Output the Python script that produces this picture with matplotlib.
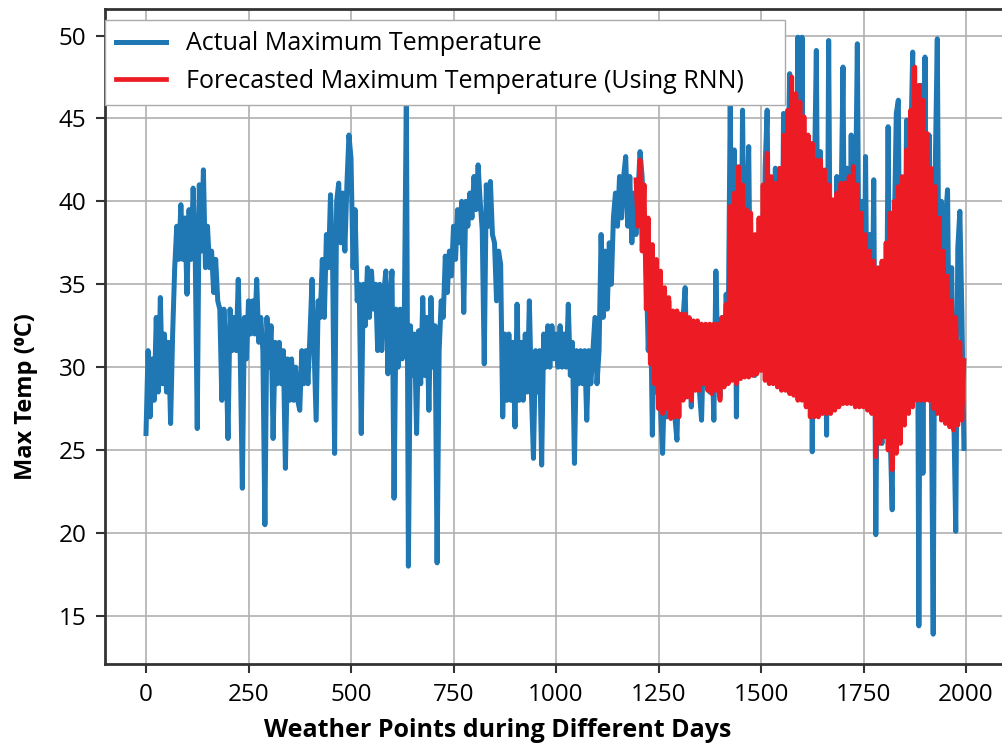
import matplotlib.pyplot as plt
import numpy as np

plt.rcParams['font.family'] = ['Open Sans', 'DejaVu Sans']

# actual max temperature, one reading every 5 weather points (0..1995)
actual_step = 5
actual_temp = [
    26.0, 31.0, 27.0, 30.5, 28.0, 33.0, 28.5, 34.2, 29.0, 32.0, 28.5, 31.5, 26.6, 32.0, 36.0, 38.5, 36.5, 39.8, 36.5, 39.0,
    34.4, 39.5, 36.5, 40.8, 37.0, 26.3, 41.0, 37.0, 41.9, 36.0, 38.5, 36.0, 37.0, 34.5, 36.5, 34.0, 33.5, 28.0, 33.5, 31.0,
    25.7, 33.5, 31.0, 33.0, 31.0, 35.3, 30.5, 22.7, 33.0, 30.5, 34.0, 32.0, 34.0, 32.0, 35.3, 31.5, 33.0, 31.0, 20.5, 33.0,
    30.0, 32.5, 25.7, 31.5, 29.0, 31.5, 29.0, 31.0, 23.9, 30.5, 28.0, 30.5, 28.0, 30.0, 28.0, 27.4, 31.0, 29.0, 31.0, 29.0,
    32.0, 35.3, 31.0, 26.8, 34.0, 33.0, 36.5, 33.0, 38.0, 36.0, 40.4, 36.5, 24.8, 40.0, 41.1, 37.5, 40.5, 37.0, 41.0, 44.0,
    42.6, 36.0, 39.5, 34.0, 35.0, 26.0, 35.0, 32.5, 36.0, 33.0, 35.8, 33.5, 35.0, 31.0, 35.0, 31.0, 34.5, 35.8, 29.6, 34.0,
    35.8, 22.1, 33.5, 30.0, 33.5, 30.5, 33.0, 46.5, 18.0, 32.5, 29.5, 32.0, 26.0, 32.2, 29.0, 34.2, 29.5, 33.0, 27.4, 34.2,
    30.0, 32.5, 18.2, 31.0, 34.0, 33.0, 36.7, 34.5, 37.0, 35.5, 38.5, 36.5, 39.5, 37.5, 40.0, 33.3, 40.0, 38.5, 40.5, 39.0,
    41.5, 39.5, 42.2, 40.0, 38.3, 30.2, 41.0, 38.5, 41.2, 38.0, 37.5, 34.0, 37.0, 36.2, 27.0, 32.0, 28.0, 32.0, 28.0, 31.5,
    26.4, 33.8, 28.0, 31.5, 28.0, 32.0, 28.5, 34.0, 28.5, 24.5, 31.0, 28.5, 31.0, 24.1, 32.0, 30.0, 32.5, 30.0, 32.5, 30.5,
    32.0, 30.0, 32.5, 30.0, 32.0, 30.0, 33.8, 29.5, 31.5, 24.2, 31.0, 29.0, 31.0, 29.0, 31.0, 26.8, 31.0, 29.0, 31.0, 33.0,
    29.0, 31.0, 38.0, 33.0, 37.0, 33.5, 37.5, 35.0, 39.0, 40.5, 38.5, 41.5, 39.0, 41.5, 42.7, 38.5, 41.5, 37.5, 40.5, 38.0,
    40.5, 43.0, 41.5, 38.0, 36.0, 31.0, 35.0, 25.9, 33.0, 28.5, 31.0, 27.5, 24.8, 29.5, 27.0, 34.0, 28.0, 31.0, 27.0, 25.6,
    30.5, 28.5, 33.0, 34.8, 29.0, 31.5, 27.6, 32.0, 29.5, 31.0, 28.5, 26.8, 31.5, 29.0, 32.0, 28.5, 31.5, 26.8, 35.8, 30.0,
    28.2, 33.0, 30.0, 34.4, 32.0, 46.0, 30.0, 43.1, 27.0, 38.0, 31.0, 45.5, 33.0, 39.0, 43.3, 31.0, 37.0, 29.5, 35.0, 30.0,
    39.0, 31.0, 42.0, 45.5, 32.0, 40.0, 30.5, 42.0, 33.0, 38.0, 30.5, 45.3, 32.0, 41.0, 47.7, 31.5, 44.0, 33.0, 49.9, 31.0,
    49.9, 33.0, 44.0, 30.5, 43.0, 24.9, 41.0, 49.1, 31.0, 43.0, 30.0, 41.0, 25.9, 49.7, 31.0, 40.0, 29.0, 41.5, 30.5, 39.0,
    48.1, 31.0, 42.0, 29.5, 44.0, 30.0, 39.0, 49.5, 31.0, 40.0, 29.0, 42.7, 28.0, 38.0, 30.0, 41.3, 19.9, 35.0, 28.0, 25.4,
    36.0, 27.0, 44.5, 26.0, 21.4, 38.0, 45.3, 46.1, 29.0, 41.0, 30.0, 44.9, 31.0, 43.0, 49.0, 30.0, 45.0, 14.4, 47.0, 23.6,
    48.7, 31.0, 44.0, 30.0, 13.9, 42.0, 49.8, 30.0, 40.0, 29.5, 38.9, 40.7, 28.0, 36.0, 27.5, 20.1, 37.2, 39.4, 33.2, 25.1,
]

# RNN forecast, starts at point 1195, every 5 points
forecast_start = 1195
forecast_step = 5
forecast_temp = [
    41.3, 38.5, 42.5, 37.0, 41.0, 33.5, 39.0, 30.2, 37.4, 29.0,
    36.5, 27.5, 35.8, 27.2, 34.8, 27.5, 34.2, 26.9, 33.4, 27.0,
    33.4, 27.0, 33.2, 28.0, 33.2, 28.2, 33.0, 28.0, 32.8, 28.6,
    32.8, 28.6, 32.6, 29.0, 32.6, 28.6, 32.6, 28.4, 32.6, 28.6,
    32.6, 28.0, 33.0, 28.8, 33.8, 29.0, 39.7, 29.2, 40.5, 29.0,
    42.1, 29.3, 41.0, 29.4, 39.5, 29.4, 39.3, 29.5, 38.0, 29.6,
    39.0, 29.8, 41.0, 29.2, 42.9, 29.0, 41.5, 29.0, 41.1, 28.8,
    42.0, 28.6, 44.0, 28.6, 45.5, 28.4, 47.5, 28.3, 46.5, 28.0,
    46.0, 28.0, 45.1, 27.6, 44.0, 27.0, 43.5, 27.0, 42.5, 27.0,
    42.5, 27.2, 41.9, 27.2, 41.0, 27.2, 40.1, 27.4, 40.5, 27.6,
    41.1, 27.8, 41.1, 27.8, 41.5, 27.8, 42.1, 27.6, 41.0, 27.6,
    39.3, 27.6, 38.0, 27.4, 37.0, 27.2, 36.4, 24.6, 36.0, 25.4,
    36.4, 25.8, 37.5, 25.0, 39.3, 23.8, 40.0, 24.8, 40.9, 25.4,
    41.5, 26.5, 43.1, 27.2, 45.5, 27.6, 48.1, 28.0, 47.0, 28.0,
    46.1, 28.0, 44.1, 28.0, 42.0, 27.5, 40.9, 27.2, 39.0, 26.8,
    37.0, 26.6, 35.5, 26.4, 34.0, 26.2, 33.0, 26.5, 31.5, 26.8,
    30.4,
]

x_actual = np.arange(len(actual_temp)) * actual_step
x_forecast = forecast_start + np.arange(len(forecast_temp)) * forecast_step

fig = plt.figure(figsize=(10.02, 7.43), dpi=100)
ax = fig.add_axes([105 / 1002, 79 / 743, 902 / 1002, 655 / 743])

ax.plot(x_actual, actual_temp, color='#1f77b4', lw=3.6, label='Actual Maximum Temperature')
ax.plot(x_forecast, forecast_temp, color='#ed1c24', lw=3.4,
        label='Forecasted Maximum Temperature (Using RNN)')

ax.set_xlim(-100, 2100)
ax.set_ylim(12.1, 51.6)
ax.set_xticks([0, 250, 500, 750, 1000, 1250, 1500, 1750, 2000])
ax.set_yticks([15, 20, 25, 30, 35, 40, 45, 50])
ax.tick_params(labelsize=17.5, width=1.5, length=6.5, pad=7, color='#333333')
ax.grid(True, color='#b0b0b0', lw=1.2)
for s in ax.spines.values():
    s.set_linewidth(2)
    s.set_color('#333333')

ax.set_xlabel('Weather Points during Different Days', fontsize=18, fontweight='bold')
ax.xaxis.set_label_coords(0.435, -0.082)
ax.set_ylabel('Max Temp (\u2070C)', fontsize=17, fontweight='bold')
ax.yaxis.set_label_coords(-0.074, 0.408)

leg = ax.legend(loc='upper left', bbox_to_anchor=(0, 0, 680 / 902, 1 - 11 / 655), mode='expand',
                borderaxespad=0, borderpad=0.45, fontsize=18, fancybox=False, framealpha=1,
                edgecolor='#aaaaaa')

fig.savefig('out.png', dpi=100)
